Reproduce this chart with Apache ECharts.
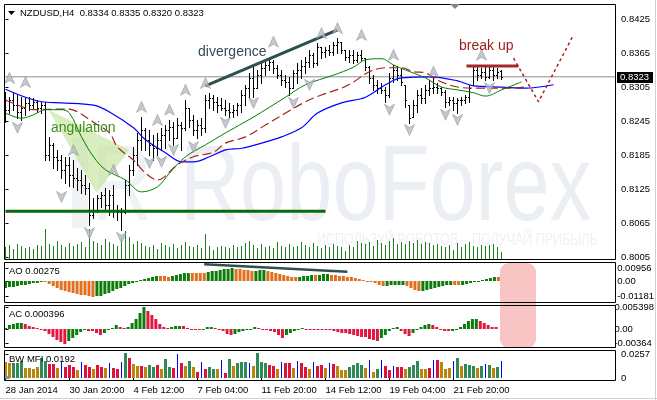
<!DOCTYPE html>
<html><head><meta charset="utf-8"><title>NZDUSD H4</title>
<script src="https://cdn.jsdelivr.net/npm/echarts@6/dist/echarts.min.js"></script>
<style>html,body{margin:0;padding:0;background:#fff;overflow:hidden}#chart{width:657px;height:400px}</style>
</head><body><div id="chart"></div>
<script>
// ---------------- DATA ----------------
const symbolTitle = 'NZDUSD,H4  0.8334 0.8335 0.8320 0.8323';
const xTickIdx = [0, 16, 32, 48, 64, 80, 96, 112];
const xTickLabels = ['28 Jan 2014', '30 Jan 20:00', '4 Feb 12:00', '7 Feb 04:00', '11 Feb 20:00', '14 Feb 12:00', '19 Feb 04:00', '21 Feb 20:00'];
const priceTicks = [0.8005, 0.8065, 0.8125, 0.8185, 0.8245, 0.8305, 0.8365, 0.8425];
const aoTicks = [0.00956, 0, -0.01181];
const acTicks = [0.005398, 0, -0.00364];
const mfiTicks = [0.0257, 0];

const opens = [0.8282,0.8265,0.8282,0.8273,0.8261,0.8268,0.8277,0.8273,0.8279,0.8268,
0.8273,0.8185,0.8203,0.8182,0.8176,0.8159,0.8167,0.8150,0.8145,0.8141,
0.8132,0.8127,0.8079,0.8088,0.8109,0.8115,0.8097,0.8115,0.8088,0.8085,
0.8085,0.8132,0.8159,0.8185,0.8212,0.8229,0.8212,0.8203,0.8197,0.8212,
0.8220,0.8229,0.8234,0.8215,0.8238,0.8233,0.8268,0.8247,0.8229,0.8238,
0.8233,0.8282,0.8286,0.8279,0.8273,0.8268,0.8265,0.8261,0.8265,0.8273,
0.8291,0.8303,0.8321,0.8303,0.8326,0.8339,0.8344,0.8349,0.8339,0.8326,
0.8317,0.8314,0.8303,0.8330,0.8335,0.8342,0.8349,0.8362,0.8347,0.8376,
0.8367,0.8370,0.8367,0.8379,0.8385,0.8370,0.8358,0.8362,0.8353,0.8362,
0.8356,0.8340,0.8321,0.8309,0.8303,0.8300,0.8291,0.8321,0.8335,0.8326,
0.8309,0.8273,0.8252,0.8273,0.8291,0.8286,0.8300,0.8303,0.8305,0.8303,
0.8296,0.8279,0.8282,0.8277,0.8282,0.8282,0.8287,0.8309,0.8335,0.8326,
0.8332,0.8323,0.8335,0.8326,0.8334];
const highs = [0.8296,0.8287,0.8295,0.8291,0.8287,0.8286,0.8287,0.8286,0.8282,0.8279,
0.8279,0.8217,0.8206,0.8194,0.8185,0.8182,0.8182,0.8176,0.8162,0.8159,
0.8150,0.8136,0.8109,0.8115,0.8120,0.8127,0.8123,0.8132,0.8097,0.8092,
0.8141,0.8167,0.8199,0.8224,0.8252,0.8233,0.8229,0.8220,0.8224,0.8233,
0.8238,0.8247,0.8243,0.8250,0.8243,0.8282,0.8268,0.8256,0.8247,0.8250,
0.8291,0.8295,0.8291,0.8287,0.8286,0.8282,0.8277,0.8273,0.8277,0.8300,
0.8309,0.8330,0.8340,0.8335,0.8347,0.8353,0.8356,0.8353,0.8344,0.8335,
0.8326,0.8323,0.8335,0.8347,0.8353,0.8358,0.8370,0.8365,0.8383,0.8376,
0.8376,0.8379,0.8385,0.8392,0.8385,0.8370,0.8370,0.8370,0.8367,0.8370,
0.8356,0.8342,0.8326,0.8317,0.8312,0.8305,0.8330,0.8344,0.8342,0.8339,
0.8309,0.8273,0.8282,0.8300,0.8303,0.8309,0.8317,0.8323,0.8312,0.8305,
0.8300,0.8287,0.8287,0.8286,0.8287,0.8291,0.8309,0.8342,0.8340,0.8339,
0.8342,0.8340,0.8340,0.8339,0.8335];
const lows = [0.8243,0.8259,0.8265,0.8250,0.8247,0.8256,0.8265,0.8268,0.8261,0.8259,
0.8176,0.8176,0.8162,0.8159,0.8145,0.8136,0.8130,0.8129,0.8123,0.8118,
0.8116,0.8062,0.8074,0.8085,0.8093,0.8088,0.8079,0.8076,0.8070,0.8053,
0.8083,0.8115,0.8150,0.8167,0.8194,0.8194,0.8185,0.8176,0.8185,0.8194,
0.8197,0.8212,0.8203,0.8215,0.8194,0.8229,0.8234,0.8220,0.8215,0.8220,
0.8226,0.8268,0.8265,0.8261,0.8265,0.8256,0.8252,0.8252,0.8256,0.8261,
0.8273,0.8287,0.8287,0.8303,0.8312,0.8326,0.8335,0.8330,0.8321,0.8309,
0.8305,0.8291,0.8303,0.8312,0.8321,0.8330,0.8340,0.8340,0.8344,0.8356,
0.8358,0.8362,0.8362,0.8365,0.8365,0.8353,0.8349,0.8347,0.8349,0.8353,
0.8335,0.8312,0.8300,0.8295,0.8295,0.8279,0.8287,0.8314,0.8317,0.8309,
0.8270,0.8242,0.8252,0.8261,0.8277,0.8277,0.8291,0.8295,0.8295,0.8291,
0.8270,0.8273,0.8265,0.8259,0.8273,0.8277,0.8279,0.8309,0.8317,0.8321,
0.8317,0.8321,0.8317,0.8321,0.8320];
const closes = [0.8265,0.8282,0.8273,0.8261,0.8268,0.8277,0.8273,0.8279,0.8268,0.8273,
0.8185,0.8203,0.8182,0.8176,0.8159,0.8167,0.8150,0.8145,0.8141,0.8132,
0.8127,0.8079,0.8088,0.8109,0.8115,0.8097,0.8115,0.8088,0.8085,0.8085,
0.8132,0.8159,0.8185,0.8212,0.8229,0.8212,0.8203,0.8197,0.8212,0.8220,
0.8229,0.8234,0.8215,0.8238,0.8233,0.8268,0.8247,0.8229,0.8238,0.8233,
0.8282,0.8286,0.8279,0.8273,0.8268,0.8265,0.8261,0.8265,0.8273,0.8291,
0.8303,0.8321,0.8303,0.8326,0.8339,0.8344,0.8349,0.8339,0.8326,0.8317,
0.8314,0.8303,0.8330,0.8335,0.8342,0.8349,0.8362,0.8347,0.8376,0.8367,
0.8370,0.8367,0.8379,0.8385,0.8370,0.8358,0.8362,0.8353,0.8362,0.8356,
0.8340,0.8321,0.8309,0.8303,0.8300,0.8291,0.8321,0.8335,0.8326,0.8314,
0.8282,0.8250,0.8273,0.8291,0.8286,0.8300,0.8303,0.8305,0.8303,0.8296,
0.8279,0.8282,0.8277,0.8282,0.8282,0.8287,0.8303,0.8335,0.8326,0.8332,
0.8323,0.8335,0.8326,0.8332,0.8323];
const volumes = [1200,1400,1000,1500,1300,1100,1200,1000,1400,1300,
3000,1500,1300,1800,1400,1200,1600,1300,1500,1700,
1200,3000,1800,1600,1400,2000,1700,1500,1300,2200,
2800,2200,1500,1800,1600,1300,1200,1400,1000,1600,
1400,1200,1500,1100,1400,1700,1300,1200,1400,1100,
2500,1300,900,1200,1300,1200,1100,1400,1200,1300,
1600,1800,1400,1100,1500,1200,1300,1100,1700,1300,
1200,1500,1200,1300,1700,1400,1200,1600,1300,1100,
1400,1200,1500,1300,1200,800,1400,1200,1800,1600,
1500,1700,1300,1900,1600,1400,1800,2100,1500,1700,
1500,1800,1600,1900,1500,1700,1600,1400,1500,1300,
1200,1400,900,1600,1200,1500,1700,1300,1200,1400,
1300,1400,1500,1200,700];

// Alligator lines (bar index, price)
const jawIdx = [0,9,14,22,26,32,35,40,44,47,51,55,59,64,69,74,78,84,90,95,99,106,113,117,124,130,137];
const jawVal = [0.8301,0.8279,0.8277,0.8273,0.8261,0.8233,0.8212,0.8189,0.8173,0.8173,0.8182,0.8194,0.8197,0.8206,0.8217,0.8233,0.8259,0.8277,0.8287,0.8309,0.8321,0.8323,0.8316,0.8307,0.8305,0.8303,0.8309];
const teethIdx = [0,5,7,14,16,18,22,26,28,32,35,38,43,47,52,55,60,65,70,75,79,84,87,91,95,99,102,105,108,113,118,126,130];
const teethVal = [0.8282,0.8268,0.8265,0.8266,0.8266,0.8261,0.8243,0.8224,0.8199,0.8176,0.8153,0.8141,0.8168,0.8182,0.8190,0.8206,0.8217,0.8238,0.8259,0.8279,0.8291,0.8303,0.8314,0.8332,0.8339,0.8339,0.8332,0.8330,0.8317,0.8305,0.8303,0.8303,0.8305];
const lipsIdx = [0,4,7,10,14,16,19,22,25,30,34,38,41,45,50,55,62,70,75,82,87,90,94,97,100,105,109,113,117,120,124,129];
const lipsVal = [0.8259,0.8250,0.8256,0.8265,0.8265,0.8259,0.8217,0.8182,0.8159,0.8141,0.8120,0.8129,0.8153,0.8182,0.8203,0.8224,0.8252,0.8287,0.8309,0.8326,0.8340,0.8353,0.8355,0.8344,0.8335,0.8321,0.8305,0.8300,0.8295,0.8289,0.8300,0.8314];

// Fractals
const fracUpIdx = [1,5,17,27,34,38,41,45,50,67,79,83,89,97,107,119];
const fracUpVal = [0.8321,0.8314,0.8194,0.8159,0.8270,0.8247,0.8265,0.8300,0.8312,0.8385,0.8400,0.8409,0.8397,0.8362,0.8332,0.8362];
const fracDnIdx = [3,14,21,29,36,39,42,47,55,62,72,76,96,101,110,113,121];
const fracDnVal = [0.8233,0.8111,0.8047,0.8039,0.8171,0.8173,0.8194,0.8199,0.8242,0.8277,0.8277,0.8309,0.8265,0.8229,0.8256,0.8247,0.8303];

// Annotations
const lastPrice = 0.8323;
const supportIdx = [0, 80], supportVal = [0.8086, 0.8086];
const resistIdx = [115.25, 128.25], resistVal = [0.8342, 0.8342];
const divIdx = [50, 83], divVal = [0.8307, 0.8406];
const forecastIdx = [127, 133.25, 142], forecastVal = [0.8356, 0.8279, 0.8397];
const angIdx = [10.75, 31, 22.75], angVal = [0.8265, 0.8194, 0.8118];
const aoDivIdx = [50, 86], aoDivVal = [0.0125, 0.0070];

// Awesome Oscillator
const aoVals = [-0.0050,-0.0046,-0.0042,-0.0038,-0.0033,-0.0028,-0.0023,-0.0018,-0.0013,-0.0008,
-0.0010,-0.0022,-0.0036,-0.0050,-0.0064,-0.0076,-0.0086,-0.0093,-0.0098,
-0.0103,-0.0108,-0.0113,-0.01181,-0.0116,
-0.0110,-0.0100,-0.0088,-0.0075,-0.0062,-0.0050,-0.0038,-0.0026,-0.0015,-0.0005,0.0005,
0.0015,0.0024,0.0032,0.0038,
0.0036,0.0034,0.0033,
0.0038,0.0045,0.0052,0.0058,0.0063,
0.0062,0.0060,0.0059,0.0058,
0.0065,0.0072,0.0078,0.0084,0.0088,0.0092,0.00956,
0.0093,0.0090,0.0085,0.0080,0.0075,
0.0078,0.0081,0.0083,
0.0078,0.0070,0.0062,0.0054,0.0046,0.0039,0.0033,0.0029,
0.0032,0.0036,0.0040,0.0044,
0.0042,
0.0046,0.0049,0.0051,
0.0048,0.0044,0.0040,0.0036,0.0032,0.0028,0.0020,0.0013,0.0007,0.0001,
-0.0008,-0.0018,-0.0028,-0.0036,
-0.0034,-0.0032,-0.0030,-0.0028,-0.0027,
-0.0040,-0.0055,-0.0068,-0.0078,
-0.0073,-0.0065,-0.0058,-0.0050,-0.0044,-0.0038,-0.0033,-0.0029,
-0.0031,-0.0033,
-0.0028,-0.0022,-0.0015,-0.0008,0.0000,0.0008,0.0016,0.0023,0.0029,
0.00275];

// Accelerator Oscillator
const acVals = [0.0003,0.0009,0.0013,0.0015,0.0016,0.0012,0.0007,0.0004,0.0002,0.0001,
-0.0006,-0.0013,-0.0020,-0.0027,-0.0033,-0.00364,-0.0030,-0.0022,-0.0014,-0.0007,
-0.0003,-0.0004,-0.0006,-0.0011,-0.0014,-0.0009,-0.0003,0.0003,0.0009,0.0006,
0.0002,0.0005,0.0015,0.0026,0.0040,0.005398,0.0046,0.0036,0.0024,0.0013,
0.0006,0.0002,0.0004,0.0007,0.0008,0.0007,0.0003,0.0001,-0.0001,-0.0003,
0.0001,0.0005,0.0006,0.0003,-0.0001,-0.0006,-0.0012,-0.0016,-0.0013,-0.0008,
-0.0004,-0.0002,0.0001,0.0005,0.0003,0.0001,-0.0001,-0.0004,-0.0008,-0.0014,
-0.0022,-0.0016,-0.0010,-0.0005,-0.0002,0.0003,0.0001,0.0000,-0.0001,-0.0002,
-0.00025,-0.0003,-0.00035,-0.0005,-0.0007,-0.0009,-0.0011,-0.0013,-0.0015,-0.0017,
-0.0019,-0.0021,-0.0024,-0.0028,-0.0029,-0.0022,-0.0014,-0.0006,0.0002,0.0005,
-0.0004,-0.0012,-0.0017,-0.0009,-0.0003,0.0004,0.0010,0.0013,0.0011,0.0006,
-0.0001,-0.0004,-0.0006,-0.0004,-0.0001,0.0005,0.0013,0.0020,0.0024,0.0025,
0.0020,0.0014,0.0009,0.0006,0.000396];

// Market Facilitation Index (value, colour class: g=green, b=fade, r=squat, u=fake)
const mfiVals = [0.018,0.016,0.017,0.017,0.019,0.011,0.011,0.010,0.012,0.022,
0.019,0.015,0.015,0.011,0.018,0.012,0.014,0.012,0.009,0.018,
0.014,0.012,0.010,0.014,0.012,0.011,0.017,0.011,0.010,0.018,
0.027,0.022,0.015,0.013,0.013,0.012,0.014,0.012,0.014,0.010,
0.021,0.012,0.011,0.026,0.017,0.013,0.019,0.012,0.007,0.018,
0.010,0.012,0.010,0.010,0.020,0.006,0.021,0.013,0.017,0.018,
0.018,0.016,0.013,0.027,0.018,0.017,0.014,0.013,0.010,0.018,
0.016,0.016,0.011,0.019,0.016,0.012,0.010,0.018,0.013,0.014,
0.011,0.016,0.015,0.013,0.009,0.009,0.012,0.014,0.017,0.014,
0.011,0.020,0.007,0.010,0.020,0.013,0.009,0.013,0.012,0.012,
0.010,0.012,0.014,0.019,0.010,0.010,0.011,0.020,0.020,0.018,
0.010,0.011,0.019,0.022,0.013,0.015,0.014,0.013,0.011,0.013,
0.015,0.014,0.011,0.012,0.0192];
const mfiClass = ('bbgggbbbbg' + 'grrburrrbu' + 'rrbrrburru' + 'grbbrbggrb' + 'ggrurbgbru' +
  'rggburgbgg' + 'gubgggrrbu' + 'rrburrburr' + 'burbbbgggg' + 'bubgurrurr' +
  'bgggbbrurb' + 'bbugbgggbg' + 'ugbgu').split('');

// ---------------- CHART ----------------
const F = "'Liberation Sans', Arial, sans-serif";
const X0 = -0.375, X1 = 152.625;
const pts = (ix, vs) => ix.map((x, k) => [x, vs[k]]);

function renderOHLC(params, api) {
  const i = api.value(0);
  const o = api.coord([i, api.value(1)]);
  const c = api.coord([i, api.value(2)]);
  const l = api.coord([i, api.value(3)]);
  const h = api.coord([i, api.value(4)]);
  const x = h[0];
  const st = { stroke: '#000', lineWidth: 1 };
  const oy = Math.round(o[1]) + 0.5, cy = Math.round(c[1]) + 0.5;
  return { type: 'group', children: [
    { type: 'line', shape: { x1: x, y1: Math.round(h[1]), x2: x, y2: Math.round(l[1]) + 1 }, style: st },
    { type: 'line', shape: { x1: x - 1.5, y1: oy, x2: x - 0.5, y2: oy }, style: st },
    { type: 'line', shape: { x1: x + 0.5, y1: cy, x2: x + 1.5, y2: cy }, style: st }
  ]};
}
function renderVolume(params, api) {
  const p = api.coord([api.value(0), api.value(1)]);
  const b = api.coord([api.value(0), 0]);
  const y0 = Math.round(p[1]), y1 = Math.round(b[1]);
  return { type: 'rect', shape: { x: p[0] - 0.5, y: y0, width: 1, height: y1 - y0 }, style: { fill: '#1f7f1f' } };
}
function histRenderer(upColor, downColor) {
  return function (params, api) {
    const i = api.value(0), v = api.value(1), up = api.value(2);
    const p = api.coord([i, v]), z = api.coord([i, 0]);
    let y0 = Math.round(Math.min(p[1], z[1])), y1 = Math.round(Math.max(p[1], z[1]));
    if (y1 - y0 < 1) y1 = y0 + 1;
    return { type: 'rect', shape: { x: p[0] - 1.5, y: y0, width: 3, height: y1 - y0 }, style: { fill: up ? upColor : downColor } };
  };
}
const mfiColors = { g: '#2e8b57', b: '#b8860b', r: '#dc143c', u: '#0000ff' };
const mfiKeys = ['g', 'b', 'r', 'u'];
function renderMFI(params, api) {
  const i = api.value(0), v = api.value(1), k = mfiKeys[api.value(2)];
  const p = api.coord([i, v]), z = api.coord([i, 0]);
  const y0 = Math.round(p[1]), y1 = Math.round(z[1]);
  const w = k === 'u' ? 1 : 3;
  return { type: 'rect', shape: { x: p[0] - w / 2, y: y0, width: w, height: Math.max(1, y1 - y0) }, style: { fill: mfiColors[k] } };
}
function renderPolygon(params, api) {
  const points = angIdx.map((x, k) => api.coord([x, angVal[k]]));
  return { type: 'polygon', shape: { points }, style: { fill: 'rgba(196,226,150,0.62)' } };
}
function renderPriceTag(params, api) {
  const y = Math.round(api.coord([0, api.value(1)])[1]);
  return { type: 'group', children: [
    { type: 'rect', shape: { x: 617, y: y - 5, width: 36, height: 11 }, style: { fill: '#000' } },
    { type: 'text', style: { x: 620, y: y + 0.5, text: api.value(1).toFixed(4), fill: '#fff', fontSize: 9.5, fontFamily: F, verticalAlign: 'middle' } }
  ]};
}

const ohlcData = opens.map((o, i) => [i, o, closes[i], lows[i], highs[i]]);
const volData = volumes.map((v, i) => [i, v]);
const aoData = aoVals.map((v, i) => [i, v, (i === 0 || v > aoVals[i - 1]) ? 1 : 0]);
const acData = acVals.map((v, i) => [i, v, (i === 0 || v > acVals[i - 1]) ? 1 : 0]);
const mfiData = mfiVals.map((v, i) => [i, v, mfiKeys.indexOf(mfiClass[i])]);

const labelBase = { color: '#000', fontSize: 9.5, fontFamily: F, margin: 5 };
const tickBase = { show: true, length: 3, lineStyle: { color: '#000', width: 1 } };
function yAx(grid, min, max, ticks, fmt) {
  return {
    type: 'value', gridIndex: grid, position: 'right', min, max, scale: true,
    axisLine: { show: false }, splitLine: { show: false },
    axisTick: ticks ? Object.assign({ customValues: ticks }, tickBase) : { show: false },
    axisLabel: ticks ? Object.assign({ customValues: ticks, formatter: fmt }, labelBase) : { show: false }
  };
}
function xAx(grid, show) {
  return {
    type: 'value', gridIndex: grid, min: X0, max: X1, show: show,
    axisLine: { show: false }, splitLine: { show: false },
    axisTick: show ? Object.assign({ customValues: xTickIdx }, tickBase) : { show: false },
    axisLabel: show ? Object.assign({}, labelBase, { customValues: xTickIdx, align: 'left', margin: 4,
      formatter: v => { const k = xTickIdx.indexOf(Math.round(v)); return k >= 0 ? xTickLabels[k] : ''; } }) : { show: false }
  };
}

const lineS = (xi, yi, data, color, width, type, z) => ({
  type: 'line', xAxisIndex: xi, yAxisIndex: yi, data, showSymbol: false, symbol: 'none',
  lineStyle: { color, width, type: type || 'solid' }, z: z || 3, silent: true, animation: false
});
const smoothLine = (data, color, width, type) => Object.assign(lineS(0, 0, data, color, width, type, 4), { smooth: 0.35 });

const upArrow = 'path://M5,0 L10,11 L5,8 L0,11 Z';
const dnArrow = 'path://M0,0 L5,3 L10,0 L5,11 Z';

const border = (x1, y1, x2, y2) => ({ type: 'rect', z: 100, silent: true,
  shape: { x: x1 + 0.5, y: y1 + 0.5, width: x2 - x1, height: y2 - y1 },
  style: { fill: 'none', stroke: '#000', lineWidth: 1 } });
const txt = (x, y, text, size, color, extra) => ({ type: 'text', z: 100, silent: true, x, y,
  style: Object.assign({ text, fill: color, fontSize: size, fontFamily: F, verticalAlign: 'middle' }, extra || {}) });

const option = {
  animation: false,
  backgroundColor: '#ffffff',
  grid: [
    { left: 4, top: 4, width: 612, height: 256 },
    { left: 4, top: 228, width: 612, height: 31 },
    { left: 4, top: 262, width: 612, height: 41 },
    { left: 4, top: 305, width: 612, height: 42 },
    { left: 4, top: 350, width: 612, height: 31 }
  ],
  xAxis: [xAx(0, false), xAx(1, false), xAx(2, false), xAx(3, false), xAx(4, true)],
  yAxis: [
    yAx(0, 0.79998, 0.84515, priceTicks, v => v.toFixed(4)),
    yAx(1, 0, 3100, null),
    yAx(2, -0.0165, 0.01425, aoTicks, v => v === 0 ? '0.00' : String(v)),
    yAx(3, -0.0045, 0.006, acTicks, v => v === 0 ? '0.00' : String(v)),
    yAx(4, -0.0033, 0.0308, mfiTicks, v => v === 0 ? '0' : String(v))
  ],
  graphic: [
    // watermark
    { type: 'rect', z: 1, silent: true, shape: { x: 72, y: 138, width: 16, height: 90 }, style: { fill: '#f0f3f6' } },
    { type: 'text', z: 1, silent: true, x: 92, y: 190, scaleX: 0.77,
      style: { text: 'R', fill: '#f0f3f6', fontSize: 108, fontFamily: F, verticalAlign: 'middle' } },
    { type: 'text', z: 1, silent: true, x: 180, y: 190, scaleX: 0.77,
      style: { text: 'RoboForex', fill: '#ebeff3', fontSize: 108, fontFamily: F, verticalAlign: 'middle' } },
    { type: 'text', z: 1, silent: true, x: 317, y: 241, scaleX: 0.78,
      style: { text: 'ИСПОЛЬЗУЙ РОБОТОВ – ПОЛУЧАЙ ПРИБЫЛЬ', fill: '#eef1f5', fontSize: 16, fontFamily: F, verticalAlign: 'middle' } },
    // highlight box over oscillators
    { type: 'rect', z: 1, silent: true, shape: { x: 500, y: 263, width: 36, height: 85, r: 9 }, style: { fill: '#f8c4c4' } },
    // panel frames
    border(4, 4, 615, 259), border(4, 262, 615, 302), border(4, 305, 615, 347), border(4, 350, 615, 380),
    // window edge
    { type: 'line', z: 100, silent: true, shape: { x1: 655.5, y1: 0, x2: 655.5, y2: 400 }, style: { stroke: '#d0d0d0', lineWidth: 1 } },
    { type: 'line', z: 100, silent: true, shape: { x1: 0, y1: 398.5, x2: 657, y2: 398.5 }, style: { stroke: '#d0d0d0', lineWidth: 1 } },
    // title
    { type: 'polygon', z: 100, silent: true, shape: { points: [[8, 11], [15, 11], [11.5, 15]] }, style: { fill: '#000' } },
    txt(20, 13, symbolTitle, 9.5, '#000'),
    txt(9, 271, 'AO ' + aoVals[aoVals.length - 1].toFixed(5), 9.5, '#000'),
    txt(9, 314, 'AC ' + acVals[acVals.length - 1].toFixed(6), 9.5, '#000'),
    txt(9, 359, 'BW MFI ' + mfiVals[mfiVals.length - 1].toFixed(4), 9.5, '#000'),
    // annotations
    txt(198, 52, 'divergence', 14, '#3a4a54'),
    txt(51, 128, 'angulation', 14, '#3f8d1f'),
    txt(459, 46, 'break up', 14, '#9b1b1b'),
    { type: 'polygon', z: 100, silent: true, shape: { points: [[450, 4], [460, 4], [455, 9]] }, style: { fill: '#7d8793' } },
    { type: 'polygon', z: 100, silent: true, shape: { points: [[5, 373], [5, 379], [10, 379]] }, style: { fill: '#8a8f96' } }
  ],
  series: [
    { type: 'custom', xAxisIndex: 1, yAxisIndex: 1, data: volData, renderItem: renderVolume, z: 2, silent: true },
    { type: 'custom', xAxisIndex: 0, yAxisIndex: 0, data: [[0]], renderItem: renderPolygon, z: 2, silent: true },
    lineS(0, 0, [[X0, lastPrice], [X1, lastPrice]], '#8c8c8c', 1, 'solid', 2),
    { type: 'custom', xAxisIndex: 0, yAxisIndex: 0, data: ohlcData, renderItem: renderOHLC, z: 3, silent: true,
      encode: { x: 0, y: [1, 2, 3, 4] } },
    smoothLine(pts(jawIdx, jawVal), '#0000ff', 1.2),
    smoothLine(pts(teethIdx, teethVal), '#a3201c', 1.2, [9, 4]),
    smoothLine(pts(lipsIdx, lipsVal), '#008000', 1),
    lineS(0, 0, pts(supportIdx, supportVal), '#0a6a0a', 3, 'solid', 5),
    lineS(0, 0, pts(resistIdx, resistVal), '#a3282a', 3, 'solid', 5),
    lineS(0, 0, pts(divIdx, divVal), '#2f4f4f', 3, 'solid', 5),
    lineS(0, 0, pts(forecastIdx, forecastVal), '#b01e1e', 1.5, [3, 3], 5),
    { type: 'scatter', xAxisIndex: 0, yAxisIndex: 0, data: pts(fracUpIdx, fracUpVal), symbol: upArrow, symbolSize: [10, 11],
      itemStyle: { color: '#b7bcc3', borderColor: '#7e858e', borderWidth: 0.6 }, z: 6, silent: true },
    { type: 'scatter', xAxisIndex: 0, yAxisIndex: 0, data: pts(fracDnIdx, fracDnVal), symbol: dnArrow, symbolSize: [10, 11],
      itemStyle: { color: '#b7bcc3', borderColor: '#7e858e', borderWidth: 0.6 }, z: 6, silent: true },
    { type: 'custom', xAxisIndex: 0, yAxisIndex: 0, data: [[0, lastPrice]], renderItem: renderPriceTag, z: 8, silent: true },
    { type: 'custom', xAxisIndex: 2, yAxisIndex: 2, data: aoData, renderItem: histRenderer('#0b7d0b', '#e0701f'), z: 3, silent: true },
    lineS(2, 2, pts(aoDivIdx, aoDivVal), '#2f4f4f', 2.5, 'solid', 5),
    { type: 'custom', xAxisIndex: 3, yAxisIndex: 3, data: acData, renderItem: histRenderer('#0b7d0b', '#e3173f'), z: 3, silent: true },
    { type: 'custom', xAxisIndex: 4, yAxisIndex: 4, data: mfiData, renderItem: renderMFI, z: 3, silent: true }
  ]
};
const chart = echarts.init(document.getElementById('chart'), null, { renderer: 'canvas' });
chart.setOption(option);
</script></body></html>
